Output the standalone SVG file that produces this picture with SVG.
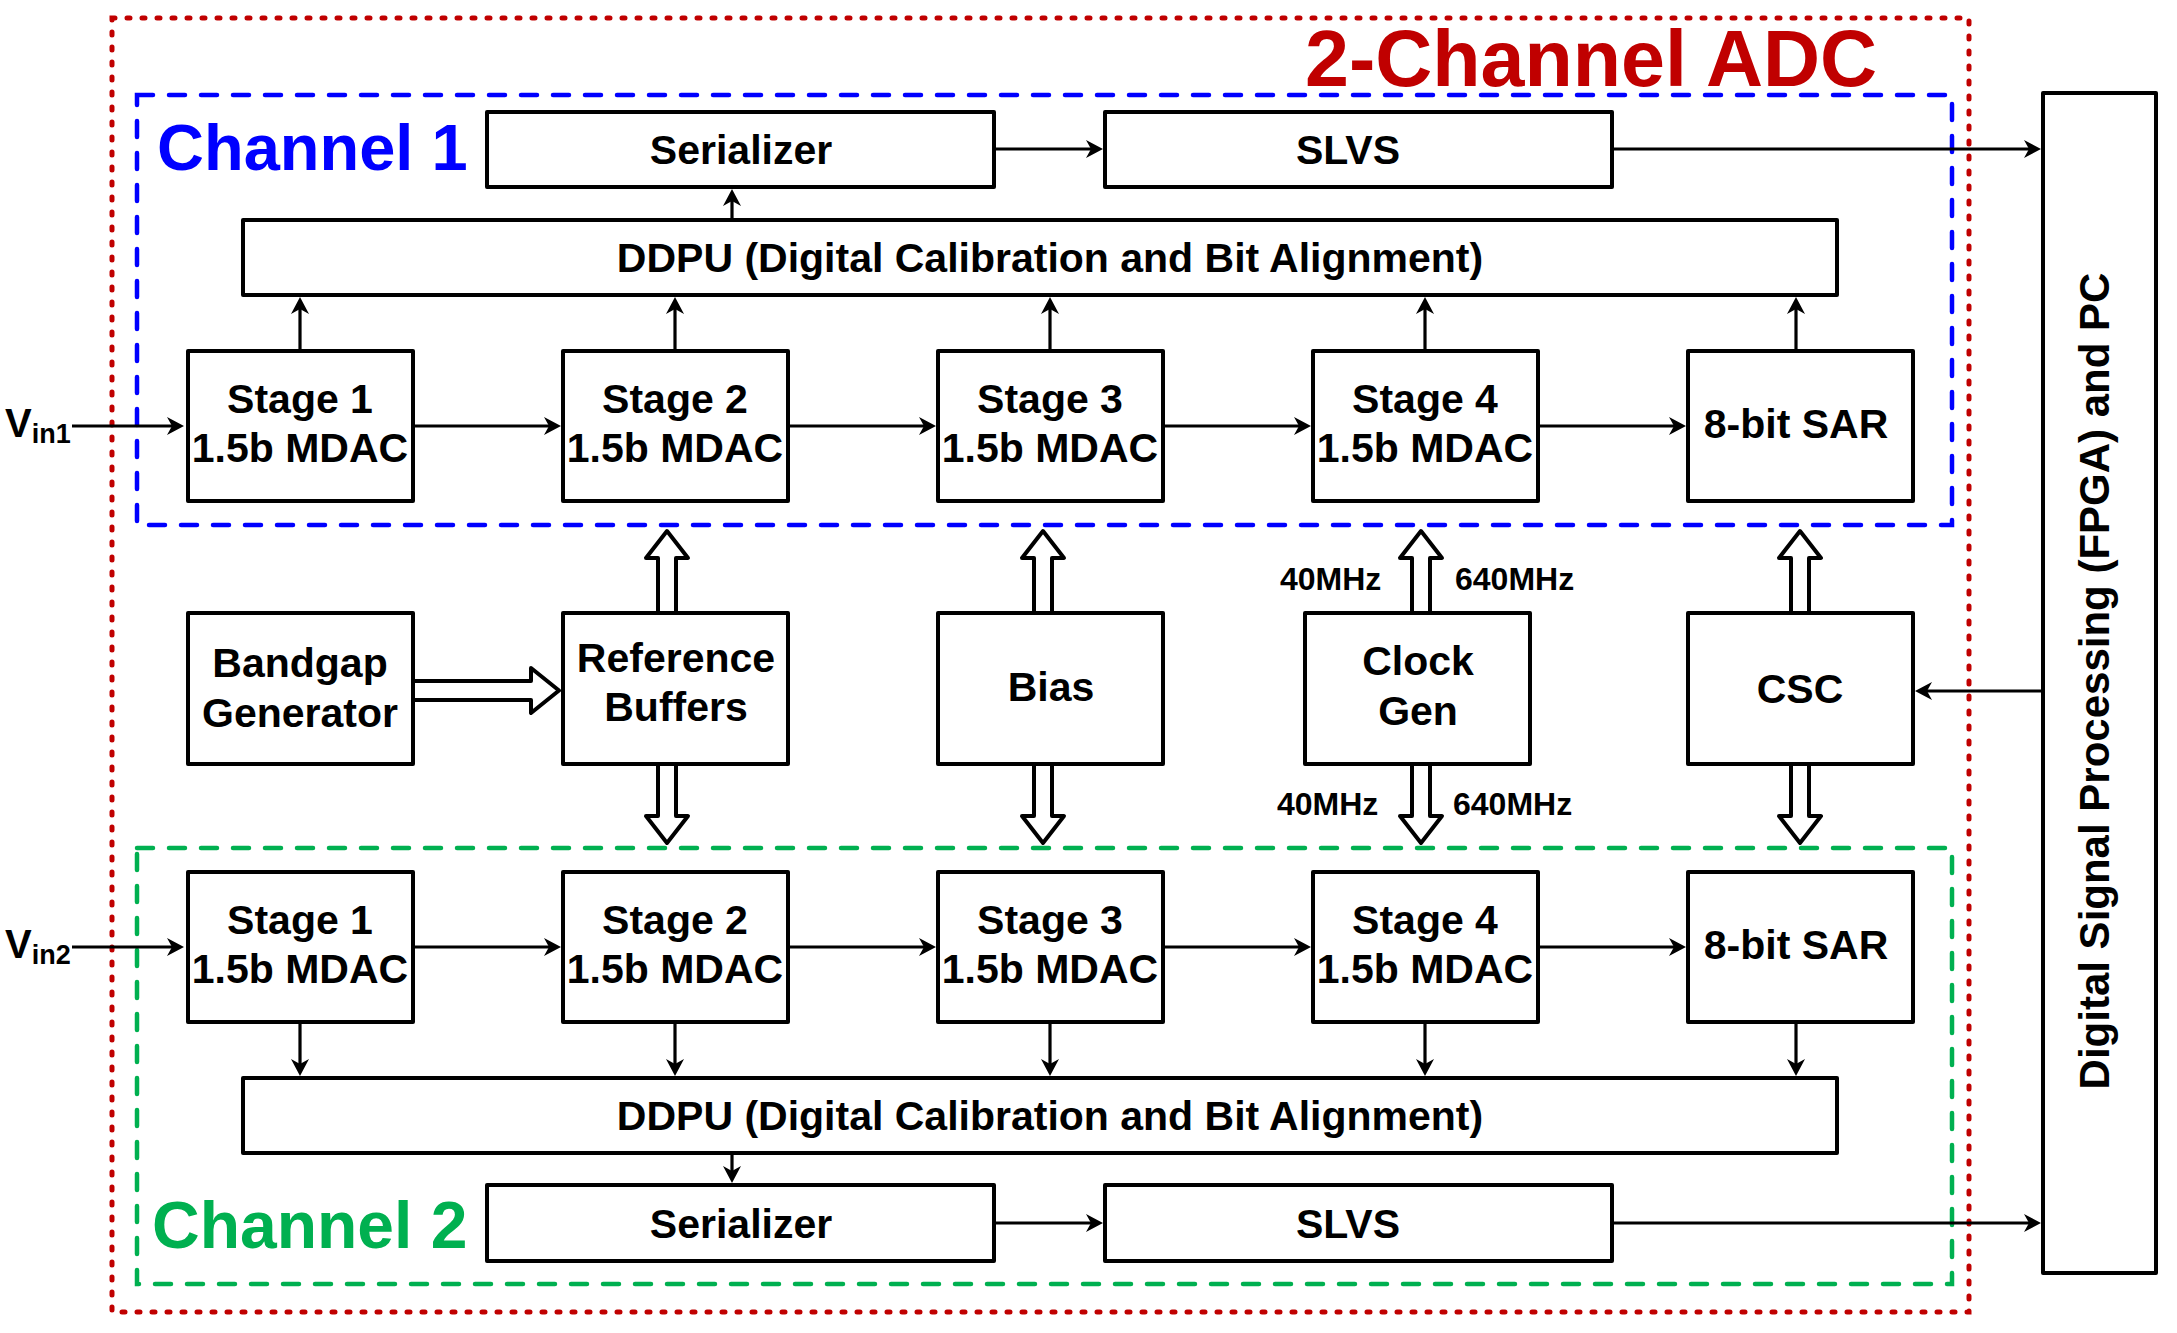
<svg xmlns="http://www.w3.org/2000/svg" width="2177" height="1333" viewBox="0 0 2177 1333">
<defs>
<style>
.box{fill:#fff;stroke:#000;stroke-width:4;stroke-linejoin:round}
.t{font-family:"Liberation Sans",Arial,Helvetica,sans-serif;font-weight:bold;font-size:41px;text-anchor:middle;fill:#000}
.lbl{font-family:"Liberation Sans",Arial,Helvetica,sans-serif;font-weight:bold;font-size:32px;fill:#000}
.vin{font-family:"Liberation Sans",Arial,Helvetica,sans-serif;font-weight:bold;font-size:40px;fill:#000}
.sub{font-size:27px}
.w{fill:none;stroke:#000;stroke-width:3.2;marker-end:url(#ah)}
.hol{fill:#fff;stroke:#000;stroke-width:4;stroke-linejoin:round}
.red{fill:none;stroke:#C00000;stroke-width:5;stroke-dasharray:3 12;stroke-linecap:round}
.blue{fill:none;stroke:#0000FF;stroke-width:4.5;stroke-dasharray:16 16;stroke-linecap:round}
.green{fill:none;stroke:#00B050;stroke-width:4.5;stroke-dasharray:16 16;stroke-linecap:round}
.title{font-family:"Liberation Sans",Arial,Helvetica,sans-serif;font-weight:bold}
</style>
<marker id="ah" markerUnits="userSpaceOnUse" viewBox="-10 -10 20 20" markerWidth="20" markerHeight="20" refX="0" refY="0" orient="auto">
<path d="M8,0 L-9,-9 L-4,0 L-9,9 Z" fill="#000"/>
</marker>
</defs>
<rect width="2177" height="1333" fill="#fff"/>

<g id="adc-boundary">
<rect class="red" x="112" y="18" width="1857" height="1294"/>
<text class="title" x="1305" y="86" font-size="79" fill="#C00000">2-Channel ADC</text>
</g>
<g id="channel1-boundary">
<rect class="blue" x="137" y="95" width="1815" height="430"/>
<text class="title" x="157" y="170" font-size="65" fill="#0000FF">Channel 1</text>
</g>
<g id="channel2-boundary">
<rect class="green" x="137" y="848" width="1815" height="436"/>
<text class="title" x="152" y="1248" font-size="66" fill="#00B050">Channel 2</text>
</g>

<g id="connectors">
<!-- channel 1 -->
<path class="w" d="M72,426 H176"/>
<path class="w" d="M413,426 H553"/>
<path class="w" d="M788,426 H928"/>
<path class="w" d="M1163,426 H1303"/>
<path class="w" d="M1538,426 H1678"/>
<path class="w" d="M300,351 V305"/>
<path class="w" d="M675,351 V305"/>
<path class="w" d="M1050,351 V305"/>
<path class="w" d="M1425,351 V305"/>
<path class="w" d="M1796,351 V305"/>
<path class="w" d="M732,220 V197"/>
<path class="w" d="M994,149 H1095"/>
<path class="w" d="M1612,149 H2033"/>
<path class="w" d="M2043,691 H1923"/>
<!-- channel 2 -->
<path class="w" d="M72,947 H176"/>
<path class="w" d="M413,947 H553"/>
<path class="w" d="M788,947 H928"/>
<path class="w" d="M1163,947 H1303"/>
<path class="w" d="M1538,947 H1678"/>
<path class="w" d="M300,1022 V1068"/>
<path class="w" d="M675,1022 V1068"/>
<path class="w" d="M1050,1022 V1068"/>
<path class="w" d="M1425,1022 V1068"/>
<path class="w" d="M1796,1022 V1068"/>
<path class="w" d="M732,1153 V1175"/>
<path class="w" d="M994,1223 H1095"/>
<path class="w" d="M1612,1223 H2033"/>
<!-- hollow block arrows -->
<path class="hol" d="M413,681 H531 V668 L559,690.5 L531,713 V700 H413"/>
<path class="hol" d="M658,613 V558 H646 L667,531 L688,558 H676 V613"/>
<path class="hol" d="M658,764 V816 H646 L667,843 L688,816 H676 V764"/>
<path class="hol" d="M1034,613 V558 H1022 L1043,531 L1064,558 H1052 V613"/>
<path class="hol" d="M1034,764 V816 H1022 L1043,843 L1064,816 H1052 V764"/>
<path class="hol" d="M1412,613 V558 H1400 L1421,531 L1442,558 H1430 V613"/>
<path class="hol" d="M1412,764 V816 H1400 L1421,843 L1442,816 H1430 V764"/>
<path class="hol" d="M1791,613 V558 H1779 L1800,531 L1821,558 H1809 V613"/>
<path class="hol" d="M1791,764 V816 H1779 L1800,843 L1821,816 H1809 V764"/>
</g>

<g id="vin1"><text class="vin" x="5" y="437">V<tspan class="sub" dy="6">in1</tspan></text></g>
<g id="vin2"><text class="vin" x="5" y="958">V<tspan class="sub" dy="6">in2</tspan></text></g>

<g id="ser1"><rect class="box" x="487" y="112" width="507" height="75"/><text class="t" x="741" y="164">Serializer</text></g>
<g id="slvs1"><rect class="box" x="1105" y="112" width="507" height="75"/><text class="t" x="1348" y="164">SLVS</text></g>
<g id="ddpu1"><rect class="box" x="243" y="220" width="1594" height="75"/><text class="t" x="1050" y="272">DDPU (Digital Calibration and Bit Alignment)</text></g>

<g id="c1-stage1"><rect class="box" x="188" y="351" width="225" height="150"/><text class="t" x="300" y="413">Stage 1</text><text class="t" x="300" y="462">1.5b MDAC</text></g>
<g id="c1-stage2"><rect class="box" x="563" y="351" width="225" height="150"/><text class="t" x="675" y="413">Stage 2</text><text class="t" x="675" y="462">1.5b MDAC</text></g>
<g id="c1-stage3"><rect class="box" x="938" y="351" width="225" height="150"/><text class="t" x="1050" y="413">Stage 3</text><text class="t" x="1050" y="462">1.5b MDAC</text></g>
<g id="c1-stage4"><rect class="box" x="1313" y="351" width="225" height="150"/><text class="t" x="1425" y="413">Stage 4</text><text class="t" x="1425" y="462">1.5b MDAC</text></g>
<g id="c1-sar"><rect class="box" x="1688" y="351" width="225" height="150"/><text class="t" x="1796" y="438">8-bit SAR</text></g>

<g id="bandgap"><rect class="box" x="188" y="613" width="225" height="151"/><text class="t" x="300" y="677">Bandgap</text><text class="t" x="300" y="727">Generator</text></g>
<g id="refbuf"><rect class="box" x="563" y="613" width="225" height="151"/><text class="t" x="676" y="672">Reference</text><text class="t" x="676" y="721">Buffers</text></g>
<g id="bias"><rect class="box" x="938" y="613" width="225" height="151"/><text class="t" x="1051" y="701">Bias</text></g>
<g id="clockgen"><rect class="box" x="1305" y="613" width="225" height="151"/><text class="t" x="1418" y="675">Clock</text><text class="t" x="1418" y="725">Gen</text>
<text class="lbl" x="1280" y="590">40MHz</text><text class="lbl" x="1455" y="590">640MHz</text>
<text class="lbl" x="1277" y="815">40MHz</text><text class="lbl" x="1453" y="815">640MHz</text></g>
<g id="csc"><rect class="box" x="1688" y="613" width="225" height="151"/><text class="t" x="1800" y="703">CSC</text></g>

<g id="c2-stage1"><rect class="box" x="188" y="872" width="225" height="150"/><text class="t" x="300" y="934">Stage 1</text><text class="t" x="300" y="983">1.5b MDAC</text></g>
<g id="c2-stage2"><rect class="box" x="563" y="872" width="225" height="150"/><text class="t" x="675" y="934">Stage 2</text><text class="t" x="675" y="983">1.5b MDAC</text></g>
<g id="c2-stage3"><rect class="box" x="938" y="872" width="225" height="150"/><text class="t" x="1050" y="934">Stage 3</text><text class="t" x="1050" y="983">1.5b MDAC</text></g>
<g id="c2-stage4"><rect class="box" x="1313" y="872" width="225" height="150"/><text class="t" x="1425" y="934">Stage 4</text><text class="t" x="1425" y="983">1.5b MDAC</text></g>
<g id="c2-sar"><rect class="box" x="1688" y="872" width="225" height="150"/><text class="t" x="1796" y="959">8-bit SAR</text></g>

<g id="ddpu2"><rect class="box" x="243" y="1078" width="1594" height="75"/><text class="t" x="1050" y="1130">DDPU (Digital Calibration and Bit Alignment)</text></g>
<g id="ser2"><rect class="box" x="487" y="1185" width="507" height="76"/><text class="t" x="741" y="1238">Serializer</text></g>
<g id="slvs2"><rect class="box" x="1105" y="1185" width="507" height="76"/><text class="t" x="1348" y="1238">SLVS</text></g>

<g id="fpga"><rect class="box" x="2043" y="93" width="113" height="1180"/><text class="t" style="font-size:42px" transform="translate(2109,681) rotate(-90)" x="0" y="0">Digital Signal Processing (FPGA) and PC</text></g>
</svg>
